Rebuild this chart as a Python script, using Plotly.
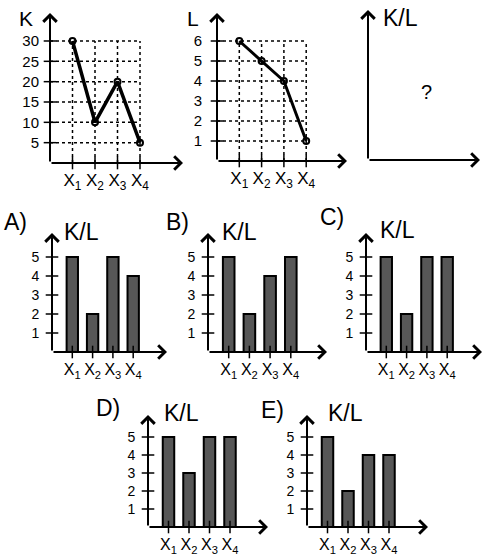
import plotly.graph_objects as go

W, H = 483, 555

# data
x_idx = [1, 2, 3, 4]
x_labels = ["X<sub>1</sub>", "X<sub>2</sub>", "X<sub>3</sub>", "X<sub>4</sub>"]
k_values = [30, 10, 20, 5]
k_ticks = [5, 10, 15, 20, 25, 30]
l_values = [6, 5, 4, 1]
l_ticks = [1, 2, 3, 4, 5, 6]
bar_ticks = [1, 2, 3, 4, 5]
opt_a = [5, 2, 5, 4]
opt_b = [5, 2, 4, 5]
opt_c = [5, 2, 5, 5]
opt_d = [5, 3, 5, 5]
opt_e = [5, 2, 4, 4]

FONT = "Liberation Sans, Arial, sans-serif"

# panel placement in pixels: origin x, origin y, px per unit x, px per unit y, arrow end x, arrow top y
panels = {
    "K": dict(ox=50, oy=163, ux=22.5, uy=4.067, xend=183, ytop=13),
    "L": dict(ox=217, oy=161, ux=22.3, uy=20.0, xend=347, ytop=13),
    "Q": dict(ox=368, oy=160, ux=20.0, uy=20.0, xend=480, ytop=10),
    "A": dict(ox=52, oy=352, ux=20.3, uy=19.0, xend=167, ytop=233),
    "B": dict(ox=208, oy=352, ux=20.7, uy=19.0, xend=327, ytop=233),
    "C": dict(ox=366, oy=352, ux=20.3, uy=19.0, xend=482, ytop=233),
    "D": dict(ox=148, oy=527, ux=20.5, uy=18.0, xend=268, ytop=415),
    "E": dict(ox=307, oy=527, ux=20.5, uy=18.0, xend=428, ytop=415),
}

fig = go.Figure()
layout = {}
annotations = []


def add_axes(n, p, yticks, ytick_size, xtick_size, ylab_gap, xlab_gap):
    sfx = "" if n == 1 else str(n)
    xmax = (p["xend"] - p["ox"]) / p["ux"]
    ymax = (p["oy"] - p["ytop"]) / p["uy"]
    layout["xaxis" + sfx] = dict(
        domain=[p["ox"] / W, p["xend"] / W], range=[0, xmax], anchor="y" + sfx,
        showgrid=False, zeroline=False, showline=False,
        tickvals=x_idx if yticks else [], ticktext=x_labels if yticks else [],
        ticks="outside", ticklen=xlab_gap, tickcolor="rgba(0,0,0,0)",
        tickfont=dict(family=FONT, size=xtick_size, color="black"),
    )
    layout["yaxis" + sfx] = dict(
        domain=[1 - p["oy"] / H, 1 - p["ytop"] / H], range=[0, ymax], anchor="x" + sfx,
        showgrid=False, zeroline=False, showline=False,
        tickvals=yticks, ticktext=[str(v) for v in yticks],
        ticks="outside", ticklen=ylab_gap, tickcolor="rgba(0,0,0,0)",
        tickfont=dict(family=FONT, size=ytick_size, color="black"),
    )
    for hx, hy in [(xmax, 0), (0, ymax)]:
        annotations.append(dict(
            x=hx, y=hy, ax=0, ay=0, xref="x" + sfx, yref="y" + sfx,
            axref="x" + sfx, ayref="y" + sfx, text="", showarrow=True,
            arrowhead=4, arrowsize=1.3, arrowwidth=2, arrowcolor="black", standoff=0,
        ))
    if yticks:
        fig.add_trace(go.Scatter(
            x=[0] * len(yticks), y=yticks, mode="markers", xaxis="x" + sfx, yaxis="y" + sfx,
            marker=dict(symbol="line-ew", size=9, line=dict(width=1.5, color="black")),
            showlegend=False, hoverinfo="skip", cliponaxis=False,
        ))
        fig.add_trace(go.Scatter(
            x=x_idx, y=[0] * 4, mode="markers", xaxis="x" + sfx, yaxis="y" + sfx,
            marker=dict(symbol="line-ns", size=9, line=dict(width=1.5, color="black")),
            showlegend=False, hoverinfo="skip", cliponaxis=False,
        ))
    return sfx


def add_grid(sfx, yticks):
    gx, gy = [], []
    for v in yticks:
        gx += [0, x_idx[-1], None]
        gy += [v, v, None]
    for v in x_idx:
        gx += [v, v, None]
        gy += [0, yticks[-1], None]
    fig.add_trace(go.Scatter(
        x=gx, y=gy, mode="lines", xaxis="x" + sfx, yaxis="y" + sfx,
        line=dict(color="black", width=1.5, dash="dot"),
        showlegend=False, hoverinfo="skip",
    ))


def text(x, y, s, size):
    annotations.append(dict(
        x=x / W, y=1 - y / H, xref="paper", yref="paper", text=s, showarrow=False,
        font=dict(family=FONT, size=size, color="black"), xanchor="center", yanchor="middle",
    ))


# K chart
s = add_axes(1, panels["K"], k_ticks, 15, 17, 7, 2)
add_grid(s, k_ticks)
fig.add_trace(go.Scatter(
    x=x_idx, y=k_values, mode="lines+markers", xaxis="x" + s, yaxis="y" + s,
    line=dict(color="black", width=3.5),
    marker=dict(symbol="circle-open", size=6, color="black", line=dict(width=2)),
    showlegend=False,
))

# L chart
s = add_axes(2, panels["L"], l_ticks, 15, 17, 11, 2)
add_grid(s, l_ticks)
fig.add_trace(go.Scatter(
    x=x_idx, y=l_values, mode="lines+markers", xaxis="x" + s, yaxis="y" + s,
    line=dict(color="black", width=3),
    marker=dict(symbol="circle-open", size=6, color="black", line=dict(width=2)),
    showlegend=False,
))

# K/L question
add_axes(3, panels["Q"], [], 15, 17, 8, 3)

# options
for n, key, vals in [(4, "A", opt_a), (5, "B", opt_b), (6, "C", opt_c), (7, "D", opt_d), (8, "E", opt_e)]:
    s = add_axes(n, panels[key], bar_ticks, 14, 16, 9, 3)
    fig.add_trace(go.Bar(
        x=x_idx, y=vals, width=0.56, xaxis="x" + s, yaxis="y" + s,
        marker=dict(color="#575757", line=dict(color="black", width=2)),
        showlegend=False,
    ))

text(26, 18, "K", 21)
text(193, 18, "L", 21)
text(400, 18, "K/L", 23)
text(426, 92, "?", 20)
text(15, 222, "A)", 23)
text(81, 232, "K/L", 23)
text(177, 222, "B)", 23)
text(239, 232, "K/L", 23)
text(332, 217, "C)", 23)
text(397, 230, "K/L", 23)
text(108, 408, "D)", 23)
text(181, 413, "K/L", 23)
text(272, 410, "E)", 23)
text(345, 413, "K/L", 23)

fig.update_layout(
    width=W, height=H, margin=dict(l=0, r=0, t=0, b=0),
    paper_bgcolor="white", plot_bgcolor="rgba(0,0,0,0)",
    showlegend=False, annotations=annotations, **layout,
)

fig.write_html(
    "out.html",
    config={"displayModeBar": False},
    post_script="document.body.style.margin = '0px';",
)
